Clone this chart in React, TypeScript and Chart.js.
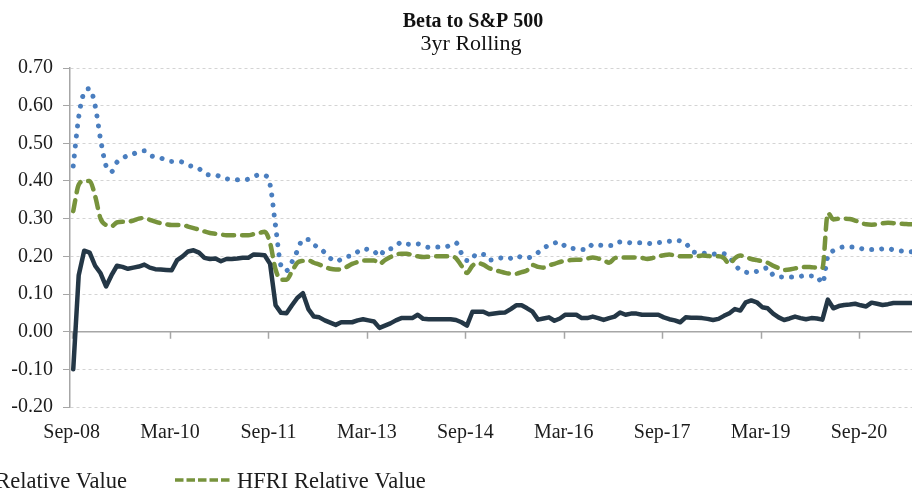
import React, { useEffect, useRef } from 'react';
import { Chart, registerables } from 'chart.js';

Chart.register(...registerables);

// Month index 0 = Sep-08, monthly observations
const X_LABELS = ['Sep-08', 'Mar-10', 'Sep-11', 'Mar-13', 'Sep-14', 'Mar-16', 'Sep-17', 'Mar-19', 'Sep-20'];
const LABEL_STEP_MONTHS = 18;

const Y_MIN = -0.2;
const Y_MAX = 0.7;
const Y_STEP = 0.1;

const FUND_LABEL = 'Relative Value';
const HFRI_LABEL = 'HFRI Relative Value';
const PEER_LABEL = 'Peer';

const FUND = [
  -0.10, 0.15, 0.215, 0.21, 0.175, 0.155, 0.12, 0.15, 0.175, 0.172, 0.167, 0.17,
  0.173, 0.178, 0.17, 0.166, 0.165, 0.164, 0.163, 0.19, 0.2, 0.213, 0.216, 0.21,
  0.196, 0.193, 0.194, 0.187, 0.193, 0.193, 0.194, 0.196, 0.196, 0.205, 0.204, 0.203,
  0.18, 0.07, 0.05, 0.049, 0.07, 0.09, 0.102, 0.06, 0.04, 0.038, 0.03, 0.024,
  0.018, 0.025, 0.025, 0.025, 0.03, 0.033, 0.03, 0.027, 0.01, 0.016, 0.022, 0.03,
  0.036, 0.036, 0.036, 0.045, 0.034, 0.033, 0.033, 0.033, 0.033, 0.033, 0.031, 0.025,
  0.016, 0.053, 0.053, 0.053, 0.046, 0.048, 0.05, 0.051, 0.06, 0.07, 0.07, 0.062,
  0.053, 0.032, 0.035, 0.038, 0.029, 0.035, 0.045, 0.045, 0.045, 0.036, 0.036, 0.04,
  0.036, 0.031, 0.036, 0.04, 0.051, 0.045, 0.048, 0.048, 0.045, 0.045, 0.045, 0.045,
  0.038, 0.033, 0.03, 0.025, 0.038, 0.037, 0.037, 0.036, 0.034, 0.031, 0.034, 0.042,
  0.049, 0.06, 0.056, 0.078, 0.083, 0.078, 0.065, 0.062, 0.048, 0.038, 0.031, 0.035,
  0.04, 0.036, 0.033, 0.036, 0.035, 0.032, 0.085, 0.062, 0.068, 0.071, 0.072, 0.074,
  0.07, 0.067, 0.077, 0.074, 0.071, 0.073, 0.076, 0.076, 0.076, 0.076, 0.076,
];

const HFRI = [
  0.32, 0.39, 0.40, 0.40, 0.36, 0.30, 0.283, 0.28, 0.29, 0.292, 0.292, 0.295,
  0.30, 0.302, 0.297, 0.292, 0.288, 0.285, 0.283, 0.283, 0.283, 0.279, 0.275, 0.271,
  0.266, 0.262, 0.26, 0.258, 0.256, 0.256, 0.256, 0.256, 0.256, 0.259, 0.262, 0.265,
  0.235, 0.165, 0.138, 0.138, 0.16, 0.183, 0.188, 0.189, 0.183, 0.178, 0.172, 0.167,
  0.165, 0.166, 0.172, 0.18, 0.185, 0.189, 0.189, 0.189, 0.18, 0.19, 0.198, 0.205,
  0.207, 0.207, 0.203, 0.2, 0.198, 0.199, 0.2, 0.2, 0.2, 0.2, 0.195, 0.175,
  0.156, 0.175, 0.182, 0.178, 0.169, 0.164, 0.16, 0.156, 0.154, 0.154, 0.158, 0.163,
  0.177, 0.172, 0.17, 0.176, 0.18, 0.185, 0.188, 0.19, 0.191, 0.191, 0.194, 0.197,
  0.194, 0.19, 0.183, 0.195, 0.197, 0.197, 0.197, 0.197, 0.196, 0.193, 0.196, 0.2,
  0.203, 0.205, 0.202, 0.2, 0.2, 0.2, 0.2, 0.202, 0.201, 0.2, 0.2, 0.195,
  0.18, 0.195, 0.202, 0.198, 0.193, 0.19, 0.187, 0.183, 0.175, 0.169, 0.164, 0.165,
  0.168, 0.17, 0.172, 0.171, 0.17, 0.169, 0.315, 0.298, 0.30, 0.30, 0.299, 0.295,
  0.289, 0.285, 0.284, 0.285, 0.288, 0.289, 0.288, 0.287, 0.286, 0.285, 0.285,
];

const PEER = [
  0.44, 0.57, 0.635, 0.645, 0.60, 0.51, 0.44, 0.425, 0.45, 0.46, 0.468, 0.472,
  0.478, 0.48, 0.468, 0.464, 0.461, 0.455, 0.452, 0.452, 0.45, 0.442, 0.438, 0.433,
  0.42, 0.416, 0.416, 0.41, 0.406, 0.404, 0.403, 0.403, 0.405, 0.412, 0.416, 0.415,
  0.39, 0.28, 0.175, 0.162, 0.185, 0.215, 0.245, 0.245, 0.231, 0.222, 0.21, 0.195,
  0.186, 0.192, 0.199, 0.202, 0.212, 0.22, 0.218, 0.214, 0.2, 0.218, 0.22, 0.226,
  0.238, 0.233, 0.232, 0.233, 0.228, 0.224, 0.225, 0.225, 0.225, 0.23, 0.236, 0.208,
  0.189, 0.203, 0.198, 0.205, 0.19, 0.192, 0.196, 0.192, 0.195, 0.202, 0.197, 0.196,
  0.2, 0.21, 0.222, 0.229, 0.235, 0.239, 0.226, 0.222, 0.22, 0.218, 0.218, 0.232,
  0.23, 0.229, 0.229, 0.229, 0.238, 0.238, 0.236, 0.236, 0.236, 0.235, 0.233, 0.236,
  0.238, 0.24, 0.243, 0.241, 0.236, 0.215, 0.21, 0.209, 0.207, 0.206, 0.207, 0.207,
  0.198, 0.178, 0.163, 0.158, 0.156, 0.16, 0.164, 0.17, 0.15, 0.146, 0.145, 0.145,
  0.145, 0.147, 0.149, 0.148, 0.147, 0.128, 0.2, 0.215, 0.222, 0.225, 0.225, 0.225,
  0.221, 0.218, 0.218, 0.218, 0.22, 0.221, 0.217, 0.215, 0.213, 0.212, 0.212,
];

const FONT = "'Liberation Serif', 'Times New Roman', serif";
const COLOR_FUND = '#243746';
const COLOR_HFRI = '#77933C';
const COLOR_PEER = '#4A7EBF';
const TEXT = '#1c1c1c';
const AXIS = '#A6A6A6';

export default function App() {
  const ref = useRef<HTMLCanvasElement>(null);

  useEffect(() => {
    if (!ref.current) return;
    const toPts = (arr: number[]) => arr.map((y, i) => ({ x: i + 0.3, y }));

    const overlay = {
      id: 'overlay',
      beforeDatasetsDraw(chart: any) {
        const { ctx, chartArea, scales } = chart;
        const y0 = scales.y.getPixelForValue(0);
        ctx.save();
        ctx.strokeStyle = AXIS;
        ctx.lineWidth = 1.5;
        ctx.beginPath();
        ctx.moveTo(chartArea.left, y0);
        ctx.lineTo(chartArea.right, y0);
        X_LABELS.forEach((_, i) => {
          const x = Math.round(scales.x.getPixelForValue(i * LABEL_STEP_MONTHS)) + 0.5;
          ctx.moveTo(x, y0);
          ctx.lineTo(x, y0 + 7);
        });
        ctx.stroke();
        ctx.restore();
      },
      afterDraw(chart: any) {
        const { ctx } = chart;
        ctx.save();
        ctx.fillStyle = '#111';
        ctx.textBaseline = 'alphabetic';
        ctx.textAlign = 'center';
        ctx.font = `bold 20px ${FONT}`;
        ctx.fillText('Beta to S&P 500', 473, 27);
        ctx.font = `22px ${FONT}`;
        ctx.fillText('3yr Rolling', 471, 50);

        ctx.font = `22.5px ${FONT}`;
        ctx.fillStyle = TEXT;
        ctx.textAlign = 'right';
        ctx.fillText(FUND_LABEL, 127, 488);
        ctx.textAlign = 'left';
        ctx.fillText(HFRI_LABEL, 237, 488);

        ctx.strokeStyle = COLOR_HFRI;
        ctx.lineWidth = 3.5;
        ctx.setLineDash([8.5, 3]);
        ctx.beginPath();
        ctx.moveTo(175, 480);
        ctx.lineTo(232, 480);
        ctx.stroke();
        ctx.restore();
      },
    };

    const chart = new Chart(ref.current, {
      type: 'line',
      data: {
        datasets: [
          {
            label: FUND_LABEL,
            data: toPts(FUND),
            borderColor: COLOR_FUND,
            borderWidth: 4.5,
            pointRadius: 0,
            tension: 0,
            borderJoinStyle: 'round',
            borderCapStyle: 'round',
          },
          {
            label: HFRI_LABEL,
            data: toPts(HFRI),
            borderColor: COLOR_HFRI,
            borderWidth: 4.5,
            pointRadius: 0,
            cubicInterpolationMode: 'monotone',
            borderDash: [11, 8],
            borderCapStyle: 'round',
            borderJoinStyle: 'round',
          },
          {
            label: PEER_LABEL,
            data: toPts(PEER),
            borderColor: COLOR_PEER,
            borderWidth: 5,
            pointRadius: 0,
            cubicInterpolationMode: 'monotone',
            borderDash: [0.01, 10],
            borderCapStyle: 'round',
            borderJoinStyle: 'round',
          },
        ],
      } as any,
      options: {
        responsive: false,
        animation: false,
        devicePixelRatio: 1,
        layout: { padding: { top: 68, bottom: 53, left: 0, right: 0 } },
        plugins: {
          legend: { display: false },
          title: { display: false },
          tooltip: { enabled: false },
        },
        scales: {
          x: {
            type: 'linear',
            min: -0.293,
            max: 153.69,
            grid: { display: false, drawTicks: false, tickLength: 0 },
            border: { display: false },
            afterBuildTicks: (s: any) => {
              s.ticks = X_LABELS.map((_, i) => ({ value: i * LABEL_STEP_MONTHS }));
            },
            afterFit: (s: any) => {
              s.height = 38;
            },
            ticks: {
              autoSkip: false,
              maxRotation: 0,
              padding: 14,
              color: TEXT,
              font: { family: FONT, size: 20 },
              callback: (v: any) => X_LABELS[Math.round(Number(v) / LABEL_STEP_MONTHS)] ?? '',
            },
          },
          y: {
            type: 'linear',
            min: Y_MIN,
            max: Y_MAX,
            afterFit: (s: any) => {
              s.width = 70;
            },
            grid: {
              color: '#D4D4D4',
              lineWidth: 1,
              tickColor: AXIS,
              tickLength: 7,
              drawTicks: true,
              tickBorderDash: [],
            },
            border: { display: true, color: AXIS, width: 1.5, dash: [3, 3] },
            ticks: {
              stepSize: Y_STEP,
              padding: 10,
              color: TEXT,
              font: { family: FONT, size: 20 },
              callback: (v: any) => {
                const n = Number(v);
                return (Math.abs(n) < 1e-9 ? 0 : n).toFixed(2);
              },
            },
          },
        },
      } as any,
      plugins: [overlay],
    });
    return () => chart.destroy();
  }, []);

  return (
    <div style={{ position: 'fixed', left: 0, top: 0, width: 912, height: 498, background: '#fff', overflow: 'hidden' }}>
      <canvas ref={ref} width={912} height={498} style={{ display: 'block', width: 912, height: 498 }} />
    </div>
  );
}
